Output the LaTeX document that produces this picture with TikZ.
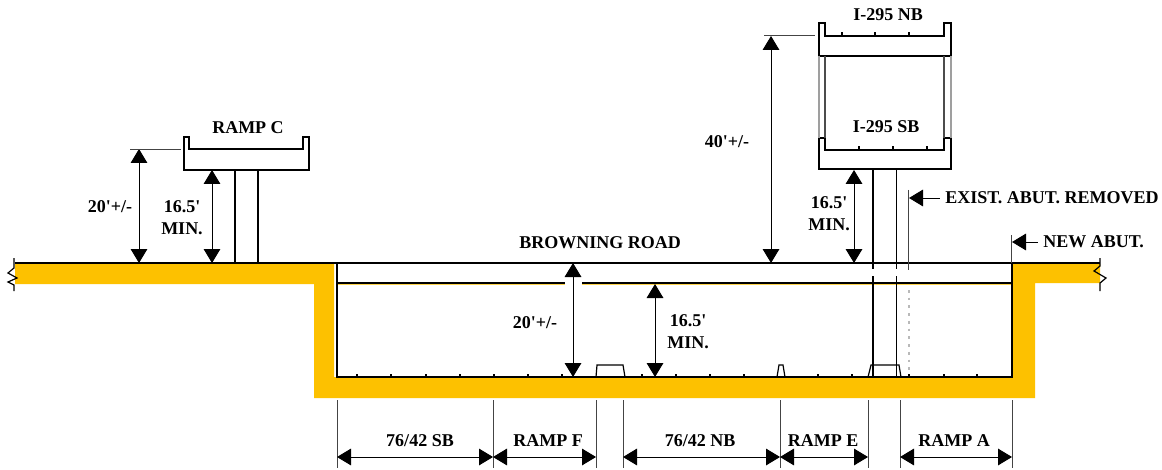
\documentclass[tikz,border=0pt]{standalone}
\usepackage{fontspec}
\setmainfont{Liberation Serif}
\usetikzlibrary{arrows.meta}
\definecolor{fillyellow}{HTML}{FDC100}
\definecolor{thingray}{HTML}{444444}
\tikzset{
  heavy/.style={line width=1.3pt,black,line cap=butt},
  thin dim/.style={line width=0.65pt,thingray},
  dim/.style={line width=0.7pt,black,{Triangle[width=12.5pt,length=10.5pt]}-{Triangle[width=12.5pt,length=10.5pt]}},
  pointer/.style={line width=0.7pt,black,{Triangle[width=12.5pt,length=10.5pt]}-},
  lbl/.style={font=\bfseries\fontsize{13.5pt}{16.5pt}\selectfont,inner sep=0pt,align=center,black},
  tick/.style={line width=0.9pt,black},
  light/.style={line width=0.9pt,gray!75},
  yellowfill/.style={fill=fillyellow,draw=none}
}
\begin{document}
\begin{tikzpicture}[x=0.75pt,y=-0.75pt]
\useasboundingbox (0,0) rectangle (1162,470);
\fill[white] (0,0) rectangle (1162,470);
% yellow ground and trench
\fill[yellowfill] (15,264) -- (334,264) -- (334,377) -- (1012,377) -- (1012,264) -- (1100,264) -- (1100,283) -- (1035,283) -- (1035,398) -- (314,398) -- (314,284) -- (15,284) -- cycle;
% ground and road
\coordinate (gl) at (15,263); \coordinate (gm) at (337,263); \coordinate (gn) at (1012,263); \coordinate (gr) at (1100,263);
\coordinate (rl) at (337,283); \coordinate (rr) at (1012,283);
\coordinate (bl) at (337,377); \coordinate (br) at (1012,377);
\coordinate (ga) at (565,283); \coordinate (gb) at (582,283);
\draw[fillyellow!70,line width=0.35pt] (337,284.4) -- (565,284.4) (582,284.4) -- (1012,284.4);
\draw[heavy] (gl) -- (gn) -- (gr);
\draw[heavy] (rl) -- (ga) (gb) -- (rr);
\draw[heavy] (gm) -- (bl) -- (br) -- (gn);
% ticks
\foreach \x in {357,391,426,460,494,528,562,642,676,710,744,818,852,909,944,977}
  \draw[tick] (\x,377) -- (\x,373.5);
% barriers
\draw[tick] (596,377) -- (597,365) -- (623,365) -- (625,377);
\draw[tick] (777,377) -- (779,365) -- (783,365) -- (785,377);
\draw[tick] (868,377) -- (871,365) -- (899,365) -- (901,377);
% break marks
\coordinate (wl1) at (14,258); \coordinate (wl2) at (14,291);
\draw[tick] (wl1) -- (14,268) -- (8,273) -- (17,278) -- (8,282) -- (14,285) -- (wl2);
\coordinate (wr1) at (1100,258); \coordinate (wr2) at (1100,291);
\draw[tick] (wr1) -- (1100,266) -- (1094,271) -- (1106,278) -- (1100,283) -- (wr2);
% Ramp C
\coordinate (c1) at (184,137); \coordinate (c2) at (189,137); \coordinate (c3) at (189,149); \coordinate (c4) at (303,149);
\coordinate (c5) at (303,137); \coordinate (c6) at (309,137); \coordinate (c7) at (309,170); \coordinate (c8) at (184,170);
\draw[heavy] (c1) -- (c2) -- (c3) -- (c4) -- (c5) -- (c6) -- (c7) -- (c8) -- cycle;
\coordinate (cp1) at (235,170); \coordinate (cp2) at (235,263); \coordinate (cp3) at (258,170); \coordinate (cp4) at (258,263);
\draw[heavy] (cp1) -- (cp2) (cp3) -- (cp4);
% I-295 NB
\coordinate (n1) at (819,23); \coordinate (n2) at (825,23); \coordinate (n3) at (825,36); \coordinate (n4) at (944,36);
\coordinate (n5) at (944,23); \coordinate (n6) at (951,23); \coordinate (n7) at (951,56); \coordinate (n8) at (819,56);
\draw[heavy] (n1) -- (n2) -- (n3) -- (n4) -- (n5) -- (n6) -- (n7) -- (n8) -- cycle;
\foreach \x in {842,875,909} \draw[tick] (\x,36) -- (\x,32.5);
% I-295 SB
\coordinate (s1) at (819,138); \coordinate (s2) at (825,138); \coordinate (s3) at (825,150); \coordinate (s4) at (944,150);
\coordinate (s5) at (944,138); \coordinate (s6) at (951,138); \coordinate (s7) at (951,169); \coordinate (s8) at (819,169);
\draw[heavy] (s1) -- (s2) -- (s3) -- (s4) -- (s5) -- (s6) -- (s7) -- (s8) -- cycle;
\foreach \x in {859,893,927} \draw[tick] (\x,150) -- (\x,146.5);
% light columns between decks
\draw[light] (n8) -- (s1) (n7) -- (s6);
\draw[heavy,line width=0.9pt,gray!60!black] (n2 |- n8) -- (s2);
\draw[heavy,line width=0.9pt,gray!60!black] (n5 |- n8) -- (s5);
% main pier
\coordinate (p1) at (873,169); \coordinate (p2) at (873,269); \coordinate (p3) at (873,276); \coordinate (p4) at (873,377);
\coordinate (q1) at (896.5,169); \coordinate (q2) at (896.5,269); \coordinate (q3) at (896.5,276); \coordinate (q4) at (896.5,377);
\draw[heavy] (p1) -- (p2) (p3) -- (p4) (q1) -- (q2) (q3) -- (q4);
% abutment lines
\coordinate (ea1) at (908,190); \coordinate (ea2) at (908,270); \coordinate (ea3) at (908.5,290); \coordinate (ea4) at (908.5,375);
\draw[thin dim] (ea1) -- (ea2);
\draw[gray!55,line width=1.5pt,dash pattern=on 2pt off 3.8pt] (ea3) -- (ea4);
\coordinate (na1) at (1011,235); \coordinate (na2) at (1011,263);
\draw[thin dim] (na1) -- (na2);
% dimension arrows
\coordinate (a1t) at (139,149); \coordinate (a1b) at (139,263);
\draw[dim] (a1t) -- (a1b);
\coordinate (e1a) at (130,149); \coordinate (e1b) at (181,149);
\draw[thin dim] (e1a) -- (e1b);
\coordinate (a2t) at (212,170); \coordinate (a2b) at (212,263);
\draw[dim] (a2t) -- (a2b);
\coordinate (a3t) at (771,36); \coordinate (a3b) at (771,263);
\draw[dim] (a3t) -- (a3b);
\coordinate (e3a) at (764,35); \coordinate (e3b) at (815,35);
\draw[thin dim] (e3a) -- (e3b);
\coordinate (a4t) at (854,170); \coordinate (a4b) at (854,263);
\draw[dim] (a4t) -- (a4b);
\coordinate (a5t) at (573,263); \coordinate (a5b) at (573,377);
\draw[dim] (a5t) -- (a5b);
\coordinate (a6t) at (655,284); \coordinate (a6b) at (655,377);
\draw[dim] (a6t) -- (a6b);
% bottom extension lines and dims
\foreach \x/\n in {337/A,493/B,596/C,623/D,780/E,868/F,900/G,1012/H}{
  \coordinate (t\n) at (\x,400); \coordinate (u\n) at (\x,468); \coordinate (d\n) at (\x,457);
  \draw[thin dim] (t\n) -- (u\n);
}
\draw[dim] (dA) -- (dB);
\draw[dim] (dB) -- (dC);
\draw[dim] (dD) -- (dE);
\draw[dim] (dE) -- (dF);
\draw[dim] (dG) -- (dH);
% pointers
\node[lbl,anchor=west] (exist) at (945,198) {EXIST. ABUT. REMOVED};
\node[lbl,anchor=west] (newab) at (1043,242) {NEW ABUT.};
\coordinate (ex) at (909,198); \coordinate (nx) at (1012,242);
\draw[pointer] (ex) -- ([xshift=-3.5pt]exist.west);
\draw[pointer] (nx) -- ([xshift=-3.5pt]newab.west);
% labels
\node[lbl] (rampc) at (248,128) {RAMP C};
\node[lbl] (t20a) at (110,207) {20\textquotesingle+/-};
\node[lbl] (t16a) at (182,217.5) {16.5\textquotesingle\\MIN.};
\node[lbl] (t40) at (727,142) {40\textquotesingle+/-};
\node[lbl] (t16b) at (829,214) {16.5\textquotesingle\\MIN.};
\node[lbl] (nb) at (888,15) {I-295 NB};
\node[lbl] (sb) at (886,127) {I-295 SB};
\node[lbl] (road) at (600,243) {BROWNING ROAD};
\node[lbl] (t20b) at (535,323) {20\textquotesingle+/-};
\node[lbl] (t16c) at (688,331.5) {16.5\textquotesingle\\MIN.};
\node[lbl] (l1) at (420,441) {76/42 SB};
\node[lbl] (l2) at (548,441) {RAMP F};
\node[lbl] (l3) at (700,441) {76/42 NB};
\node[lbl] (l4) at (823,441) {RAMP E};
\node[lbl] (l5) at (954,441) {RAMP A};
\end{tikzpicture}
\end{document}
